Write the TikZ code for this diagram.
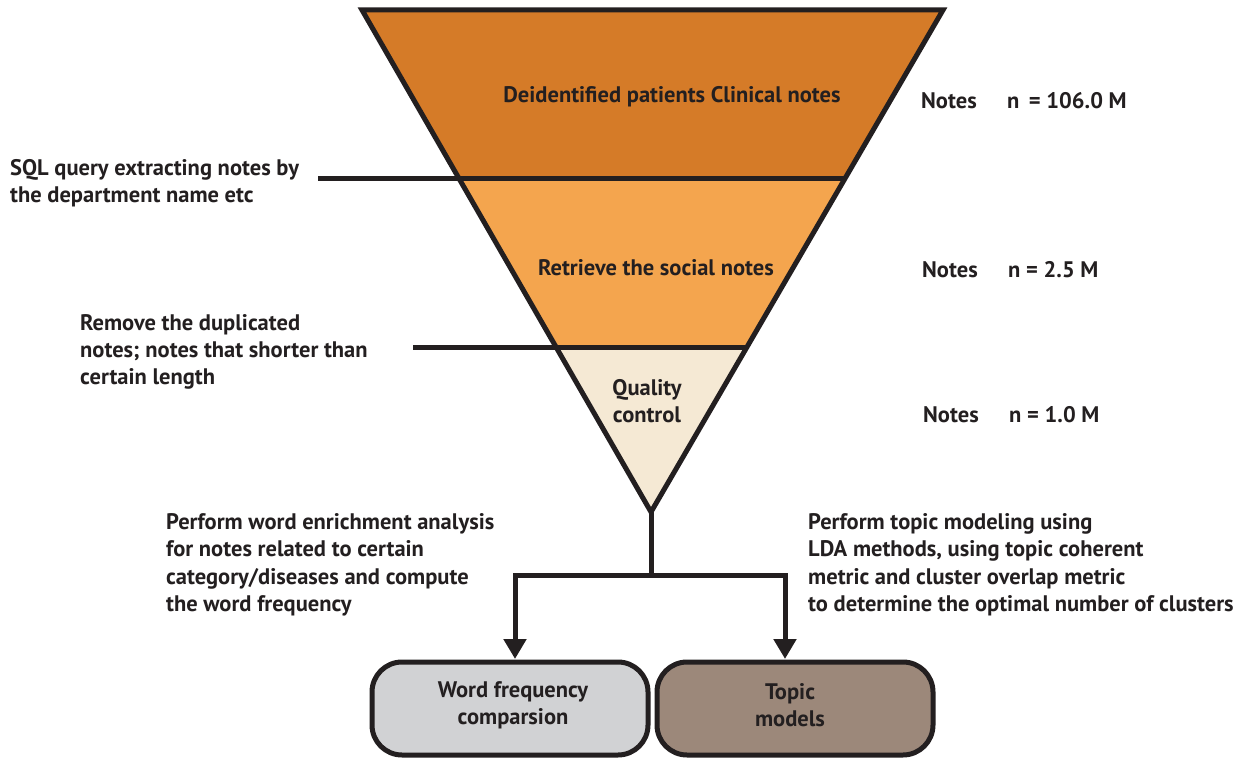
\documentclass[tikz,border=0pt]{standalone}
\usepackage{fontspec}
\setmainfont{PT Sans}
\usetikzlibrary{arrows.meta}
\definecolor{ink}{HTML}{231F20}
\definecolor{orangeA}{HTML}{D57B28}
\definecolor{orangeB}{HTML}{F4A54E}
\definecolor{creamC}{HTML}{F5E9D4}
\definecolor{greyD}{HTML}{D1D2D4}
\definecolor{brownE}{HTML}{9C887A}
\tikzset{
  txt/.style={font=\fontsize{22.5}{27.4}\selectfont\bfseries, text=ink, inner sep=0pt, align=left},
  ctxt/.style={txt, align=center},
  edge/.style={draw=ink, line width=5pt, line join=miter},
  arr/.style={edge, -{Triangle[width=22pt,length=20pt]}},
  endbox/.style={draw=ink, line width=5pt, rounded corners=30pt, minimum width=276pt, minimum height=93pt, inner sep=0pt},
}
\begin{document}
\begin{tikzpicture}[x=1pt,y=-1pt]
\useasboundingbox (0,0) rectangle (1241,759);
% funnel geometry
\coordinate (TL) at (362,10);
\coordinate (TR) at (943,10);
\coordinate (AP) at (651,512);
\coordinate (L1) at (459,179);
\coordinate (R1) at (845,179);
\coordinate (L2) at (556,347);
\coordinate (R2) at (747,347);
\coordinate (E1) at (318,179);
\coordinate (E2) at (413,347);
% fills
\fill[orangeA] (TL) -- (TR) -- (R1) -- (L1) -- cycle;
\fill[orangeB] (L1) -- (R1) -- (R2) -- (L2) -- cycle;
\fill[creamC] (L2) -- (R2) -- (AP) -- cycle;
% outlines
\draw[edge] (TL) -- (TR) -- (AP) -- cycle;
\draw[edge] (E1) -- (R1);
\draw[edge] (E2) -- (R2);
% funnel texts
\node[ctxt] (t1) at (672,97) {Deidentified patients Clinical notes};
\node[ctxt] (t2) at (656,268) {Retrieve the social notes};
\node[ctxt] (t3) at (647,401) {Quality\\control};
% counts
\node[txt, anchor=west] (n1a) at (921,101) {Notes};
\node[txt, anchor=west] (n1b) at (1007,101) {n \,= 106.0 M};
\node[txt, anchor=west] (n2a) at (922,270) {Notes};
\node[txt, anchor=west] (n2b) at (1008,270) {n = 2.5 M};
\node[txt, anchor=west] (n3a) at (923,415) {Notes};
\node[txt, anchor=west] (n3b) at (1009,415) {n = 1.0 M};
% side annotations
\node[txt, anchor=north west] (s1) at (10,159) {SQL query extracting notes by\\the department name etc};
\node[txt, anchor=north west] (s2) at (80,314) {Remove the duplicated\\notes; notes that shorter than\\certain length};
\node[txt, anchor=north west] (s3) at (166,513) {Perform word enrichment analysis\\for notes related to certain\\category/diseases and compute\\the word frequency};
\node[txt, anchor=north west] (s4) at (808,513) {Perform topic modeling using\\LDA methods, using topic coherent\\metric and cluster overlap metric\\to determine the optimal number of clusters};
% end boxes
\node[endbox, fill=greyD] (wf) at (510,708.5) {};
\node[ctxt] (wft) at (513,705) {Word frequency\\comparsion};
\node[endbox, fill=brownE] (tm) at (795,708.5) {};
\node[ctxt] (tmt) at (790,705) {Topic\\models};
% connectors
\coordinate (J) at (651,575);
\coordinate (JL) at (515,575);
\coordinate (JR) at (785,575);
\draw[edge] (AP) -- (J);
\draw[arr] (J) -- (JL) -- (515,659);
\draw[arr] (J) -- (JR) -- (785,659);
\end{tikzpicture}
\end{document}
